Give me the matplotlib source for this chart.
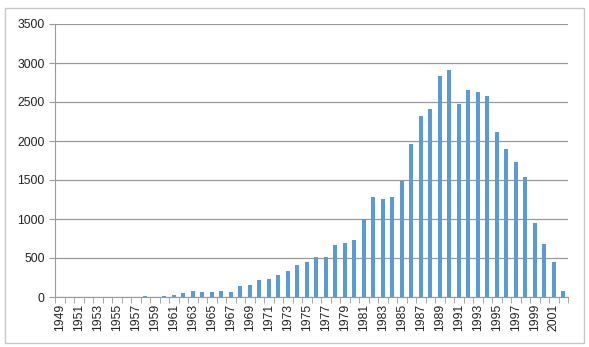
import numpy as np
import matplotlib
matplotlib.use("Agg")
import matplotlib.pyplot as plt
from matplotlib.patches import Rectangle

years = list(range(1949, 2003))
counts = [2, 2, 2, 2, 2, 3, 3, 3, 5, 13, 5, 8, 20, 50,
          81, 68, 60, 73, 68, 145, 154, 218, 235, 282, 333, 410,
          444, 509, 517, 667, 697, 731, 996, 1278, 1261, 1282, 1487, 1962,
          2321, 2406, 2838, 2915, 2470, 2650, 2628, 2577, 2120, 1893, 1731,
          1543, 949, 684, 444, 81]

plt.rcParams['font.family'] = ['Liberation Sans', 'DejaVu Sans']

fig = plt.figure(figsize=(5.89, 3.47), dpi=100)
fig.patches.append(Rectangle((5/589, 1-343/347), 579/589, 335/347, transform=fig.transFigure,
                             fill=False, edgecolor='#c8c8c8', linewidth=1))

ax = fig.add_axes([55/589, 1-297/347, 513/589, 273/347])
x = np.arange(len(years))
ax.bar(x, counts, width=0.4, color='#5b9bd5', zorder=3)

ax.set_xlim(-0.5, len(years)-0.5)
ax.set_ylim(0, 3500)
ax.set_yticks(range(0, 3501, 500))
ax.yaxis.grid(True, color='#9a9a9a', linewidth=0.9, zorder=0)

ax.set_xticks(x[::2])
ax.set_xticklabels([str(y) for y in years[::2]], rotation=90, fontsize=8.8, color='#222222')
ax.set_xticks(np.arange(-0.5, len(years), 1), minor=True)
ax.tick_params(axis='x', which='major', length=0, pad=5)
ax.tick_params(axis='x', which='minor', length=4, color='#9a9a9a')
ax.tick_params(axis='y', length=4, color='#9a9a9a', labelsize=8.8, labelcolor='#222222')

for s in ['top', 'right']:
    ax.spines[s].set_visible(False)
ax.spines['left'].set_color('#9a9a9a')
ax.spines['bottom'].set_color('#9a9a9a')

fig.savefig('out.png', dpi=100)
